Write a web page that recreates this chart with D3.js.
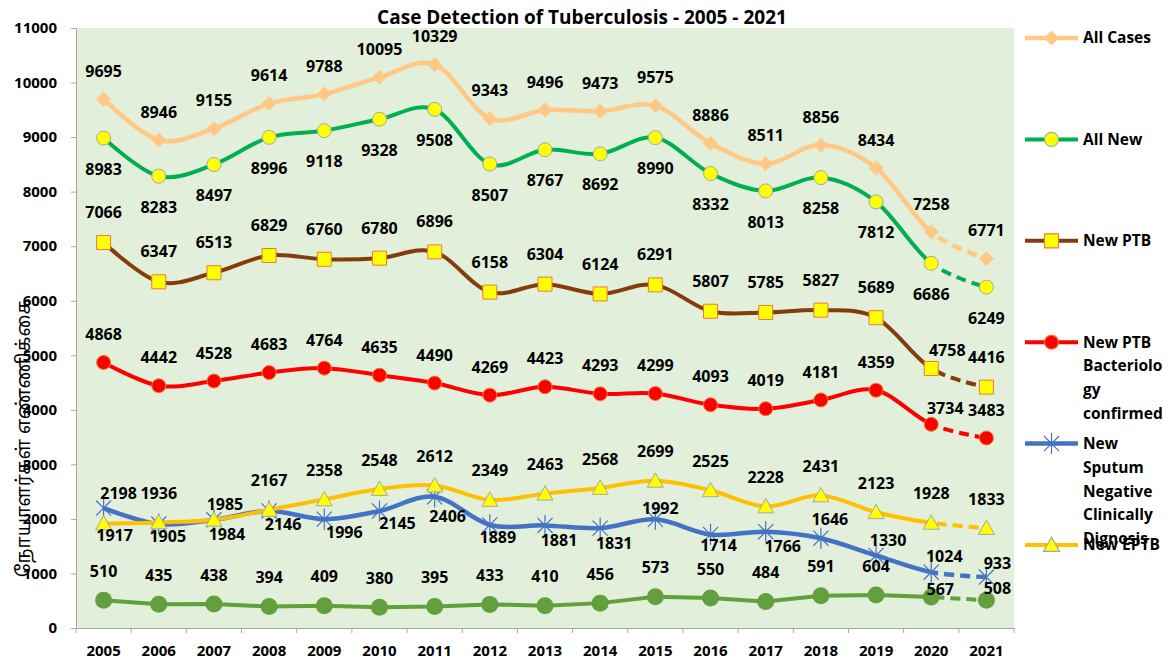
<!DOCTYPE html>
<html>
<head>
<meta charset="utf-8">
<script src="https://cdn.jsdelivr.net/npm/d3@7"></script>
<style>
  body { margin: 0; background: #fff; }
  svg { display: block; font-family: "Open Sans", sans-serif; }
</style>
</head>
<body>
<div id="vis"></div>
<script>
// Frame constants
const FRAME_WIDTH = 1168;
const FRAME_HEIGHT = 663;
const PLOT = {left: 76, right: 1014, top: 28, bottom: 628};

// Data
const YEARS = ["2005", "2006", "2007", "2008", "2009", "2010", "2011", "2012", "2013",
               "2014", "2015", "2016", "2017", "2018", "2019", "2020", "2021"];
const Y_TICKS = [0, 1000, 2000, 3000, 4000, 5000, 6000, 7000, 8000, 9000, 10000, 11000];

const ALL_CASES = [9695, 8946, 9155, 9614, 9788, 10095, 10329, 9343, 9496, 9473, 9575, 8886, 8511, 8856, 8434, 7258, 6771];
const ALL_NEW   = [8983, 8283, 8497, 8996, 9118, 9328, 9508, 8507, 8767, 8692, 8990, 8332, 8013, 8258, 7812, 6686, 6249];
const NEW_PTB   = [7066, 6347, 6513, 6829, 6760, 6780, 6896, 6158, 6304, 6124, 6291, 5807, 5785, 5827, 5689, 4758, 4416];
const NEW_PTB_BC = [4868, 4442, 4528, 4683, 4764, 4635, 4490, 4269, 4423, 4293, 4299, 4093, 4019, 4181, 4359, 3734, 3483];
const NEW_SN_CD = [2198, 1905, 1984, 2146, 1996, 2145, 2406, 1889, 1881, 1831, 1992, 1714, 1766, 1646, 1330, 1024, 933];
const NEW_EPTB  = [1917, 1936, 1985, 2167, 2358, 2548, 2612, 2349, 2463, 2568, 2699, 2525, 2228, 2431, 2123, 1928, 1833];
const OTHER     = [510, 435, 438, 394, 409, 380, 395, 433, 410, 456, 573, 550, 484, 591, 604, 567, 508];

const TITLE = "Case Detection of Tuberculosis - 2005 - 2021";
const Y_TITLE = "நோயாளர்கள் எண்ணிக்கை";

// label nudges (dx, dy from the marker), default per series plus a few hand-placed ones
const LABEL_DEFAULT = {cases: [0, -28], allnew: [0, 31], ptb: [0, -30], bc: [0, -28],
                       sn: [12, 14], eptb: [0, -29], other: [0, -29]};
const LABEL_MOVED = {
  ptb: {15: [16, -18]},
  bc: {15: [14, -16]},
  eptb: {0: [11, 12], 2: [11, -15]},
  other: {15: [9, -8], 16: [11, -12]},
  sn: {0: [15, -15], 1: [9, 12], 2: [13, 15], 3: [14, 13], 4: [20, 13], 5: [18, 12], 6: [13, 20],
       7: [8, 12], 8: [14, 15], 9: [14, 15], 10: [5, -11], 11: [8, 11], 12: [17, 15],
       13: [9, -19], 14: [12, -15], 15: [13, -16], 16: [11, -14]}
};

// marker shapes
function diamond(r) { return `M0,${-r}L${r},0L0,${r}L${-r},0Z`; }
function square(r) { return `M${-r},${-r}H${r}V${r}H${-r}Z`; }
function triangle(r) { return `M0,${-r}L${r},${r * 0.8}L${-r},${r * 0.8}Z`; }
function circle(r) { return `M${r},0A${r},${r} 0 1 1 ${-r},0A${r},${r} 0 1 1 ${r},0Z`; }
function star(r) {
  const k = r * 0.72;
  return `M0,${-r}V${r}M${-k},${-k}L${k},${k}M${-k},${k}L${k},${-k}`;
}

const SERIES = [
  {key: "cases", name: ["All Cases"], values: ALL_CASES, color: "#FFC985", width: 4.5,
   marker: diamond(7.5), fill: "#FFC985", stroke: "none", smooth: true},
  {key: "allnew", name: ["All New"], values: ALL_NEW, color: "#00B050", width: 4,
   marker: circle(7), fill: "#FFFF00", stroke: "#A6A6A6", smooth: true},
  {key: "ptb", name: ["New PTB"], values: NEW_PTB, color: "#843C0C", width: 4,
   marker: square(7), fill: "#FFFF00", stroke: "#ED7D31", smooth: true},
  {key: "bc", name: ["New PTB", "Bacteriolo", "gy", "confirmed"], values: NEW_PTB_BC, color: "#FF0000", width: 4,
   marker: circle(7), fill: "#FF0000", stroke: "#ED7D31", smooth: true},
  {key: "sn", name: ["New", "Sputum", "Negative", "Clinically", "Dignosis"], values: NEW_SN_CD, color: "#4472C4", width: 4.5,
   marker: star(10.5), fill: "none", stroke: "#4472C4", smooth: true},
  {key: "eptb", name: ["New EPTB"], values: NEW_EPTB, color: "#FFC000", width: 4,
   marker: triangle(8), fill: "#FFFF00", stroke: "#A6A6A6", smooth: true},
  {key: "other", name: null, values: OTHER, color: "#61A03C", width: 4,
   marker: circle(8.5), fill: "#61A03C", stroke: "none", smooth: false}
];

// Frame
const FRAME = d3.select("#vis")
  .append("svg")
    .attr("width", FRAME_WIDTH)
    .attr("height", FRAME_HEIGHT);

// Scales
const X_SCALE = d3.scaleBand().domain(YEARS).range([PLOT.left, PLOT.right]).padding(0);
const Y_SCALE = d3.scaleLinear().domain([0, 11000]).range([PLOT.bottom, PLOT.top]);
const cx = (i) => X_SCALE(YEARS[i]) + X_SCALE.bandwidth() / 2;

// plot area
FRAME.append("rect")
  .attr("x", PLOT.left).attr("y", PLOT.top)
  .attr("width", PLOT.right - PLOT.left).attr("height", PLOT.bottom - PLOT.top)
  .attr("fill", "#E2EFDA");

// clip: solid up to 2020, dashed after
const SPLIT = cx(YEARS.length - 2);
const defs = FRAME.append("defs");
defs.append("clipPath").attr("id", "solid")
  .append("rect").attr("x", 0).attr("y", 0).attr("width", SPLIT).attr("height", FRAME_HEIGHT);
defs.append("clipPath").attr("id", "dashed")
  .append("rect").attr("x", SPLIT).attr("y", 0).attr("width", FRAME_WIDTH - SPLIT).attr("height", FRAME_HEIGHT);

// Axes
const yAxis = FRAME.append("g")
  .attr("transform", "translate(" + PLOT.left + ",0)")
  .call(d3.axisLeft(Y_SCALE).tickValues(Y_TICKS).tickFormat(d3.format("d"))
        .tickSize(5).tickSizeOuter(0).tickPadding(14));

const xAxis = FRAME.append("g")
  .attr("transform", "translate(0," + PLOT.bottom + ")")
  .call(d3.axisBottom(X_SCALE).tickSize(0).tickSizeOuter(0).tickPadding(17));

[yAxis, xAxis].forEach((g) => {
  g.select(".domain").attr("stroke", "#A6A6A6");
  g.selectAll(".tick line").attr("stroke", "#A6A6A6");
  g.selectAll("text").attr("font-size", "15px").attr("font-weight", "bold")
    .attr("fill", "#000").attr("font-family", "Open Sans, sans-serif");
});

// x ticks sit between the categories
FRAME.append("g").selectAll("line")
  .data(YEARS.concat([null]))
  .enter()
  .append("line")
    .attr("x1", (d) => d === null ? PLOT.right : X_SCALE(d))
    .attr("x2", (d) => d === null ? PLOT.right : X_SCALE(d))
    .attr("y1", PLOT.bottom).attr("y2", PLOT.bottom + 5)
    .attr("stroke", "#A6A6A6");

// Lines
const lines = FRAME.append("g");
SERIES.forEach((s) => {
  const gen = d3.line()
    .x((d, i) => cx(i))
    .y((d) => Y_SCALE(d))
    .curve(s.smooth ? d3.curveCardinal.tension(0) : d3.curveLinear);
  lines.append("path")
    .attr("d", gen(s.values))
    .attr("fill", "none").attr("stroke", s.color).attr("stroke-width", s.width)
    .attr("stroke-linejoin", "round")
    .attr("clip-path", "url(#solid)");
  lines.append("path")
    .attr("d", gen(s.values))
    .attr("fill", "none").attr("stroke", s.color).attr("stroke-width", s.width)
    .attr("stroke-dasharray", "10,6")
    .attr("clip-path", "url(#dashed)");
});

// Markers
SERIES.forEach((s) => {
  FRAME.append("g").selectAll("path")
    .data(s.values)
    .enter()
    .append("path")
      .attr("transform", (d, i) => "translate(" + cx(i) + "," + Y_SCALE(d) + ")")
      .attr("d", s.marker)
      .attr("fill", s.fill)
      .attr("stroke", s.stroke)
      .attr("stroke-width", s.key === "sn" ? 1.2 : 1);
});

// Data labels
SERIES.forEach((s) => {
  const moved = LABEL_MOVED[s.key] || {};
  FRAME.append("g").selectAll("text")
    .data(s.values)
    .enter()
    .append("text")
      .attr("x", (d, i) => cx(i) + (moved[i] || LABEL_DEFAULT[s.key])[0])
      .attr("y", (d, i) => Y_SCALE(d) + (moved[i] || LABEL_DEFAULT[s.key])[1])
      .attr("dy", "0.35em")
      .attr("text-anchor", "middle")
      .attr("font-size", "16px")
      .attr("font-weight", "bold")
      .attr("fill", "#000")
      .text((d) => d);
});

// Legend
const legend = FRAME.append("g").attr("transform", "translate(1025,38)");
SERIES.filter((s) => s.name).forEach((s, k) => {
  const g = legend.append("g").attr("transform", "translate(0," + (k * 101.4) + ")");
  g.append("line").attr("x1", 0).attr("x2", 53).attr("y1", 0).attr("y2", 0)
    .attr("stroke", s.color).attr("stroke-width", s.width);
  g.append("path").attr("transform", "translate(26.5,0)").attr("d", s.marker)
    .attr("fill", s.fill).attr("stroke", s.stroke).attr("stroke-width", 1.2);
  g.selectAll("text")
    .data(s.name)
    .enter()
    .append("text")
      .attr("x", 58)
      .attr("y", (d, i) => i * 23.8)
      .attr("dy", "0.35em")
      .attr("font-size", "15.5px")
      .attr("font-weight", "bold")
      .attr("fill", "#000")
      .text((d) => d);
});

// Title
FRAME.append("text")
  .attr("x", 582).attr("y", 24)
  .attr("text-anchor", "middle")
  .attr("font-size", "19px").attr("font-weight", "bold")
  .text(TITLE);

// y axis title
FRAME.append("text")
  .attr("transform", "translate(23,438) rotate(-90)")
  .attr("text-anchor", "middle")
  .attr("dy", "0.35em")
  .attr("font-family", "'Noto Sans Tamil', Latha, 'Noto Sans', sans-serif")
  .attr("font-size", "19px")
  .text(Y_TITLE);
</script>
</body>
</html>
